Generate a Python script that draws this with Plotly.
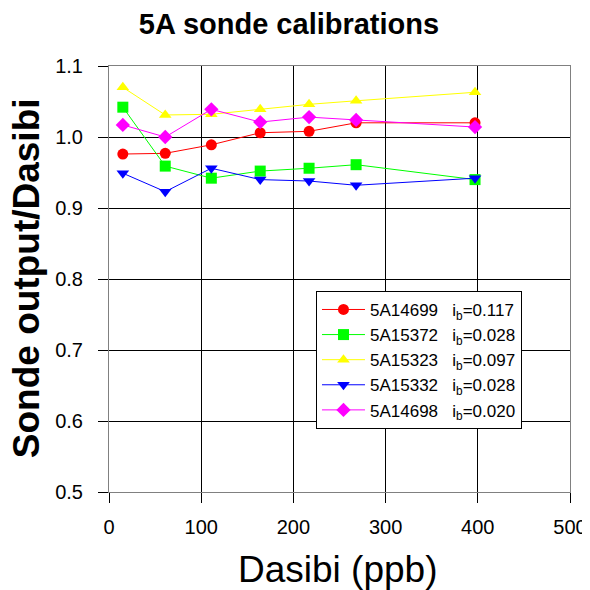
import plotly.graph_objects as go

dasibi = [15, 61, 111, 164, 217, 268, 397]
s_5A14699 = [0.976, 0.977, 0.989, 1.006, 1.008, 1.020, 1.020]
s_5A15372 = [1.042, 0.959, 0.942, 0.952, 0.956, 0.961, 0.940]
s_5A15323 = [1.070, 1.031, 1.032, 1.039, 1.046, 1.051, 1.063]
s_5A15332 = [0.949, 0.923, 0.956, 0.940, 0.938, 0.932, 0.942]
s_5A14698 = [1.017, 1.000, 1.039, 1.021, 1.028, 1.024, 1.014]

names = ["5A14699", "5A15372", "5A15323", "5A15332", "5A14698"]
ib = ["0.117", "0.028", "0.097", "0.028", "0.020"]
series = [s_5A14699, s_5A15372, s_5A15323, s_5A15332, s_5A14698]
colors = ["#ff0000", "#00ff00", "#ffff00", "#0000ff", "#ff00ff"]
symbols = ["circle", "square", "triangle-up", "triangle-down", "diamond"]

FONT = "Liberation Sans, Arial, sans-serif"

fig = go.Figure()
sp = "\u00a0" * 3
for n, b, ys, c, s in zip(names, ib, series, colors, symbols):
    fig.add_trace(go.Scatter(
        x=dasibi, y=ys, mode="lines+markers",
        name=f"{n}{sp}i<sub>b</sub>=" + b,
        line=dict(color=c, width=1),
        marker=dict(symbol=s, size=11, color=c, line=dict(width=0)),
    ))

axis_common = dict(
    showline=True, linecolor="#808080", linewidth=1, mirror=True,
    showgrid=True, gridcolor="#000000", gridwidth=1,
    ticks="outside", ticklen=10, tickcolor="#000000",
    tickfont=dict(family=FONT, size=20, color="#000"),
    zeroline=False, automargin=False,
)

W = 590
fig.update_layout(
    width=W, height=590,
    paper_bgcolor="white", plot_bgcolor="white",
    margin=dict(l=101, r=28, t=58, b=106),
    title=dict(text="<b>5A sonde calibrations</b>", x=281 / W, xanchor="center",
               y=0.973, yanchor="middle",
               font=dict(family=FONT, size=29, color="#000")),
    xaxis=dict(range=[0, 500], dtick=100, ticklabelstandoff=7, **axis_common),
    yaxis=dict(range=[0.5, 1.1], dtick=0.1, tickformat=".1f",
               ticklabelstandoff=11, **axis_common),
    legend=dict(x=0.449, y=0.472, xanchor="left", yanchor="top",
                bgcolor="white", bordercolor="#000", borderwidth=1,
                font=dict(family=FONT, size=17, color="#000"),
                tracegroupgap=0, itemwidth=43),
    showlegend=True,
    annotations=[
        dict(text="Dasibi (ppb)", xref="paper", yref="paper",
             x=0.4946, y=-0.181, xanchor="center", yanchor="middle",
             showarrow=False, font=dict(family=FONT, size=37, color="#000")),
        dict(text="<b>Sonde output/Dasibi</b>", xref="paper", yref="paper",
             x=-0.18, y=0.502, xanchor="center", yanchor="middle", textangle=-90,
             showarrow=False, font=dict(family=FONT, size=37, color="#000")),
    ],
)

fig.write_html("out.html")
